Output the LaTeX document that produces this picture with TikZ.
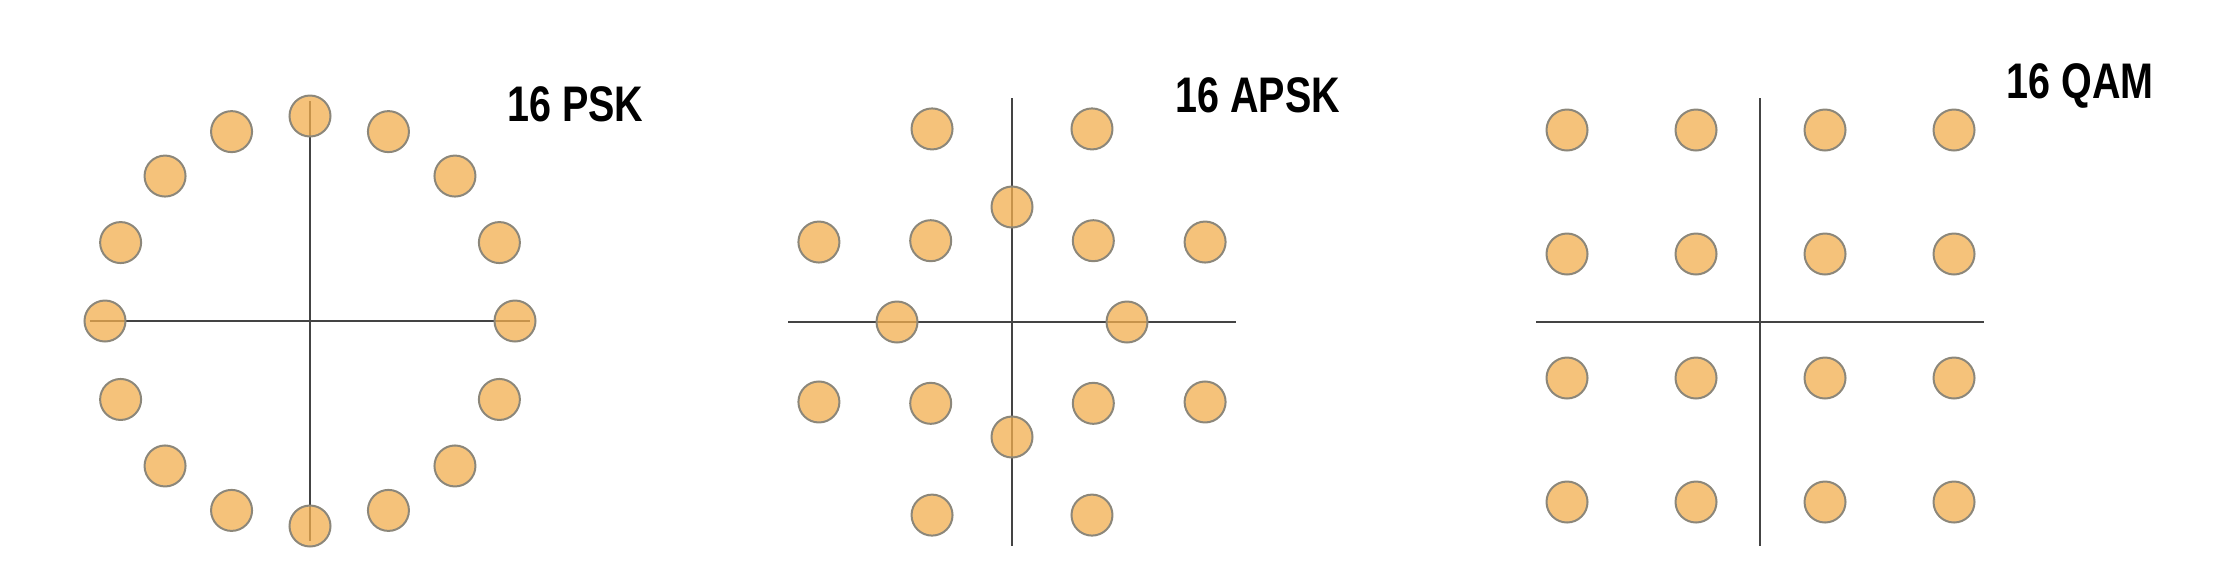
\documentclass[tikz,border=0pt]{standalone}
\usepackage{fontspec}
\newfontfamily\labelfont[FakeStretch=0.79]{Liberation Sans Bold}
\usetikzlibrary{calc}
\definecolor{dotOrange}{HTML}{F2AE4E}
\definecolor{dotRim}{HTML}{8C877A}
\definecolor{axisGray}{HTML}{444444}
\tikzset{
  symbolDot/.style={
    circle, draw=dotRim, fill=dotOrange, fill opacity=0.75,
    draw opacity=1, line width=1pt, minimum size=20.5pt, inner sep=0pt
  },
  axisLine/.style={
    draw=axisGray, line width=1.4pt
  },
  schemeLabel/.style={
    anchor=base west, inner sep=0pt, text=black,
    font=\labelfont\fontsize{25}{25}\selectfont
  }
}

\begin{document}
\begin{tikzpicture}[x=0.5pt, y=-0.5pt]
\useasboundingbox (0,0) rectangle (2214,586);

% ── 16 PSK ─────────────────────────────────────────────────────────
\coordinate (pskC) at (310,321);
\coordinate (pskW) at ($(pskC)+(-220,0)$);
\coordinate (pskE) at ($(pskC)+(220,0)$);
\coordinate (pskN) at ($(pskC)+(0,-220)$);
\coordinate (pskS) at ($(pskC)+(0,220)$);
\draw[axisLine] (pskW) -- (pskE);
\draw[axisLine] (pskN) -- (pskS);
\foreach \k in {0,...,15}
  \node[symbolDot] (psk\k) at ($(pskC)+(\k*22.5:205)$) {};
\node[schemeLabel] (pskLabel) at (507,121) {16 PSK};

% ── 16 APSK ────────────────────────────────────────────────────────
\coordinate (apskC) at (1012,322);
\coordinate (apskW) at ($(apskC)+(-224,0)$);
\coordinate (apskE) at ($(apskC)+(224,0)$);
\coordinate (apskN) at ($(apskC)+(0,-224)$);
\coordinate (apskS) at ($(apskC)+(0,224)$);
\draw[axisLine] (apskW) -- (apskE);
\draw[axisLine] (apskN) -- (apskS);
\foreach \k in {0,...,7} {
  \node[symbolDot] (apskIn\k)  at ($(apskC)+(\k*45:115)$) {};
  \node[symbolDot] (apskOut\k) at ($(apskC)+(22.5+\k*45:209)$) {};
}
\node[schemeLabel] (apskLabel) at (1175,112) {16 APSK};

% ── 16 QAM ─────────────────────────────────────────────────────────
\coordinate (qamC) at (1760,322);
\coordinate (qamW) at ($(qamC)+(-224,0)$);
\coordinate (qamE) at ($(qamC)+(224,0)$);
\coordinate (qamN) at ($(qamC)+(0,-224)$);
\coordinate (qamS) at ($(qamC)+(0,224)$);
\draw[axisLine] (qamW) -- (qamE);
\draw[axisLine] (qamN) -- (qamS);
\foreach \col [count=\i] in {-193,-64,65,194}
  \foreach \row [count=\j] in {-192,-68,56,180}
    \node[symbolDot] (qam\i\j) at ($(qamC)+(\col,\row)$) {};
\node[schemeLabel] (qamLabel) at (2006,98) {16 QAM};

\end{tikzpicture}
\end{document}
